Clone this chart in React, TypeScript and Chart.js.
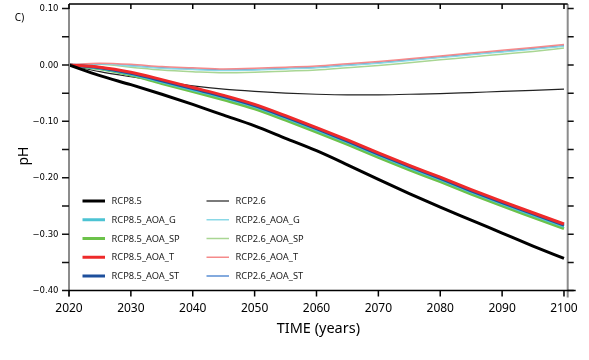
import React, { useEffect, useRef } from "react";
import { Chart, registerables } from "chart.js";

Chart.register(...registerables);

const years = [2020, 2025, 2030, 2035, 2040, 2045, 2050, 2055, 2060, 2065, 2070, 2075, 2080, 2085, 2090, 2095, 2100];

const rcp85 = [0, -0.019, -0.035, -0.052, -0.07, -0.089, -0.108, -0.13, -0.152, -0.177, -0.203, -0.228, -0.252, -0.275, -0.298, -0.321, -0.343];
const rcp85G = [0, -0.006, -0.016, -0.03, -0.044, -0.058, -0.074, -0.094, -0.115, -0.137, -0.16, -0.182, -0.203, -0.225, -0.246, -0.266, -0.286];
const rcp85SP = [0, -0.007, -0.018, -0.033, -0.047, -0.062, -0.078, -0.098, -0.119, -0.141, -0.164, -0.186, -0.207, -0.229, -0.25, -0.27, -0.29];
const rcp85T = [0, -0.004, -0.013, -0.026, -0.04, -0.054, -0.07, -0.09, -0.111, -0.133, -0.156, -0.178, -0.199, -0.221, -0.242, -0.262, -0.282];
const rcp85ST = [0, -0.005, -0.015, -0.028, -0.042, -0.056, -0.072, -0.092, -0.113, -0.135, -0.158, -0.18, -0.201, -0.223, -0.244, -0.264, -0.284];

const rcp26 = [0, -0.012, -0.021, -0.029, -0.037, -0.043, -0.047, -0.05, -0.052, -0.053, -0.053, -0.052, -0.051, -0.049, -0.047, -0.045, -0.043];
const rcp26G = [0, 0.002, -0.002, -0.006, -0.008, -0.01, -0.009, -0.007, -0.005, -0.001, 0.003, 0.008, 0.013, 0.018, 0.023, 0.028, 0.033];
const rcp26SP = [0, 0.001, -0.004, -0.009, -0.012, -0.014, -0.013, -0.011, -0.009, -0.005, -0.001, 0.004, 0.009, 0.014, 0.019, 0.024, 0.03];
const rcp26T = [0, 0.003, 0.001, -0.003, -0.005, -0.007, -0.006, -0.004, -0.002, 0.002, 0.006, 0.011, 0.016, 0.021, 0.026, 0.031, 0.036];
const rcp26ST = [0, 0.002, -0.001, -0.005, -0.007, -0.009, -0.008, -0.006, -0.004, 0.0, 0.004, 0.009, 0.014, 0.019, 0.024, 0.029, 0.034];

const seriesLabels85 = ["RCP8.5", "RCP8.5_AOA_G", "RCP8.5_AOA_SP", "RCP8.5_AOA_T", "RCP8.5_AOA_ST"];
const seriesLabels26 = ["RCP2.6", "RCP2.6_AOA_G", "RCP2.6_AOA_SP", "RCP2.6_AOA_T", "RCP2.6_AOA_ST"];
const xTicks = [2020, 2030, 2040, 2050, 2060, 2070, 2080, 2090, 2100];
const yTicks = [-0.4, -0.35, -0.3, -0.25, -0.2, -0.15, -0.1, -0.05, 0, 0.05, 0.1];
const yLabelTicks = [-0.4, -0.3, -0.2, -0.1, 0, 0.1];

const colors85 = ["#000000", "#4cc3d3", "#6cc24a", "#ee2a2a", "#1d4f9c"];
const colors26 = ["#222222", "#8ad8e6", "#a9d693", "#f58a8a", "#5a8ed3"];

const fmt = (v: number) => {
  const s = Math.abs(v).toFixed(2);
  return v < -1e-9 ? "\u2212" + s : s;
};

const decoPlugin = {
  id: "deco",
  afterDatasetsDraw(chart: any) {
    const { ctx, chartArea, scales } = chart;
    const { left, right, top, bottom } = chartArea;
    const xs = scales.x;
    const ys = scales.y;
    ctx.save();
    // left & right axes (gray)
    ctx.strokeStyle = "#8c8c8c";
    ctx.lineWidth = 2;
    ctx.beginPath();
    ctx.moveTo(left, top);
    ctx.lineTo(left, bottom + 6);
    ctx.moveTo(right, top);
    ctx.lineTo(right, bottom + 7);
    ctx.stroke();
    // y ticks
    ctx.strokeStyle = "#111";
    ctx.lineWidth = 1.5;
    ctx.beginPath();
    yTicks.forEach((v) => {
      const py = ys.getPixelForValue(v);
      ctx.moveTo(left - 7, py);
      ctx.lineTo(left, py);
      ctx.moveTo(right, py);
      ctx.lineTo(right + 6, py);
    });
    ctx.stroke();
    // top & bottom axes
    ctx.strokeStyle = "#000";
    ctx.lineWidth = 1.5;
    ctx.beginPath();
    ctx.moveTo(left, bottom);
    ctx.lineTo(right + 8, bottom);
    ctx.moveTo(left, top);
    ctx.lineTo(right, top);
    xTicks.forEach((v) => {
      const px = xs.getPixelForValue(v);
      ctx.moveTo(px, bottom);
      ctx.lineTo(px, bottom + 6);
      ctx.moveTo(px, top);
      ctx.lineTo(px, top + 5);
    });
    ctx.stroke();

    // tick labels
    ctx.fillStyle = "#000";
    ctx.textBaseline = "middle";
    ctx.textAlign = "right";
    ctx.font = "8.5px 'DejaVu Sans'";
    yLabelTicks.forEach((v) => {
      ctx.fillText(fmt(v), 58.5, ys.getPixelForValue(v) + 0.5);
    });
    ctx.textAlign = "center";
    ctx.font = "12px 'Noto Sans'";
    xTicks.forEach((v) => {
      ctx.fillText(String(v), xs.getPixelForValue(v), bottom + 18);
    });

    // legend
    const ds = chart.data.datasets;
    const rowY = [201, 219.75, 238.5, 257.25, 276];
    const cols = [
      { x0: 82.5, x1: 105, tx: 111.5 },
      { x0: 206.5, x1: 229, tx: 235.5 },
    ];
    ctx.font = "9.3px 'Noto Sans'";
    ctx.textBaseline = "middle";
    ctx.textAlign = "left";
    ds.forEach((d: any, i: number) => {
      const c = cols[i < 5 ? 0 : 1];
      const y = rowY[i % 5];
      ctx.strokeStyle = d.borderColor;
      ctx.lineWidth = d.borderWidth;
      ctx.beginPath();
      ctx.moveTo(c.x0, y);
      ctx.lineTo(c.x1, y);
      ctx.stroke();
      ctx.fillStyle = "#1a1a1a";
      ctx.fillText(d.label, c.tx, y + 0.5);
    });

    // titles
    ctx.fillStyle = "#000";
    ctx.font = "14.5px 'Noto Sans'";
    ctx.textAlign = "center";
    ctx.fillText("TIME (years)", (left + right) / 2, 329);
    ctx.save();
    ctx.translate(24, 156);
    ctx.rotate(-Math.PI / 2);
    ctx.font = "14px 'Noto Sans'";
    ctx.fillText("pH", 0, 0);
    ctx.restore();
    ctx.font = "10px 'Noto Sans'";
    ctx.fillText("C)", 19.5, 18.5);
    ctx.restore();
  },
};

export default function App() {
  const ref = useRef<HTMLCanvasElement | null>(null);
  useEffect(() => {
    if (!ref.current) return;
    const mk = (label: string, data: number[], color: string, width: number, order: number) => ({
      label,
      data: years.map((yr, i) => ({ x: yr, y: data[i] })),
      borderColor: color,
      backgroundColor: color,
      borderWidth: width,
      pointRadius: 0,
      fill: false,
      tension: 0.3,
      cubicInterpolationMode: "monotone",
      order,
    });
    const chart = new Chart(ref.current, {
      type: "line",
      data: {
        datasets: [
          mk(seriesLabels85[0], rcp85, colors85[0], 3, 0),
          mk(seriesLabels85[1], rcp85G, colors85[1], 3, 3),
          mk(seriesLabels85[2], rcp85SP, colors85[2], 3, 4),
          mk(seriesLabels85[3], rcp85T, colors85[3], 3, 1),
          mk(seriesLabels85[4], rcp85ST, colors85[4], 3, 2),
          mk(seriesLabels26[0], rcp26, colors26[0], 1.2, 5),
          mk(seriesLabels26[1], rcp26G, colors26[1], 1.5, 7),
          mk(seriesLabels26[2], rcp26SP, colors26[2], 1.5, 9),
          mk(seriesLabels26[3], rcp26T, colors26[3], 1.5, 6),
          mk(seriesLabels26[4], rcp26ST, colors26[4], 1.5, 8),
        ] as any,
      },
      options: {
        responsive: false,
        animation: false,
        events: [],
        layout: { padding: { left: 0, right: 21.3, top: 4, bottom: 0 } },
        plugins: { legend: { display: false }, tooltip: { enabled: false }, title: { display: false } },
        scales: {
          x: {
            type: "linear",
            min: 2020,
            max: 2100.6,
            grid: { display: false },
            border: { display: false },
            ticks: { display: false },
            afterFit: (s: any) => {
              s.height = 69.4;
            },
          },
          y: {
            type: "linear",
            min: -0.4,
            max: 0.108,
            grid: { display: false },
            border: { display: false },
            ticks: { display: false },
            afterFit: (s: any) => {
              s.width = 69;
            },
          },
        },
      } as any,
      plugins: [decoPlugin],
    });
    return () => chart.destroy();
  }, []);
  return (
    <div style={{ position: "fixed", left: 0, top: 0, width: 589, height: 360, background: "#fff" }}>
      <canvas ref={ref} width={589} height={360} style={{ display: "block", width: 589, height: 360 }} />
    </div>
  );
}
